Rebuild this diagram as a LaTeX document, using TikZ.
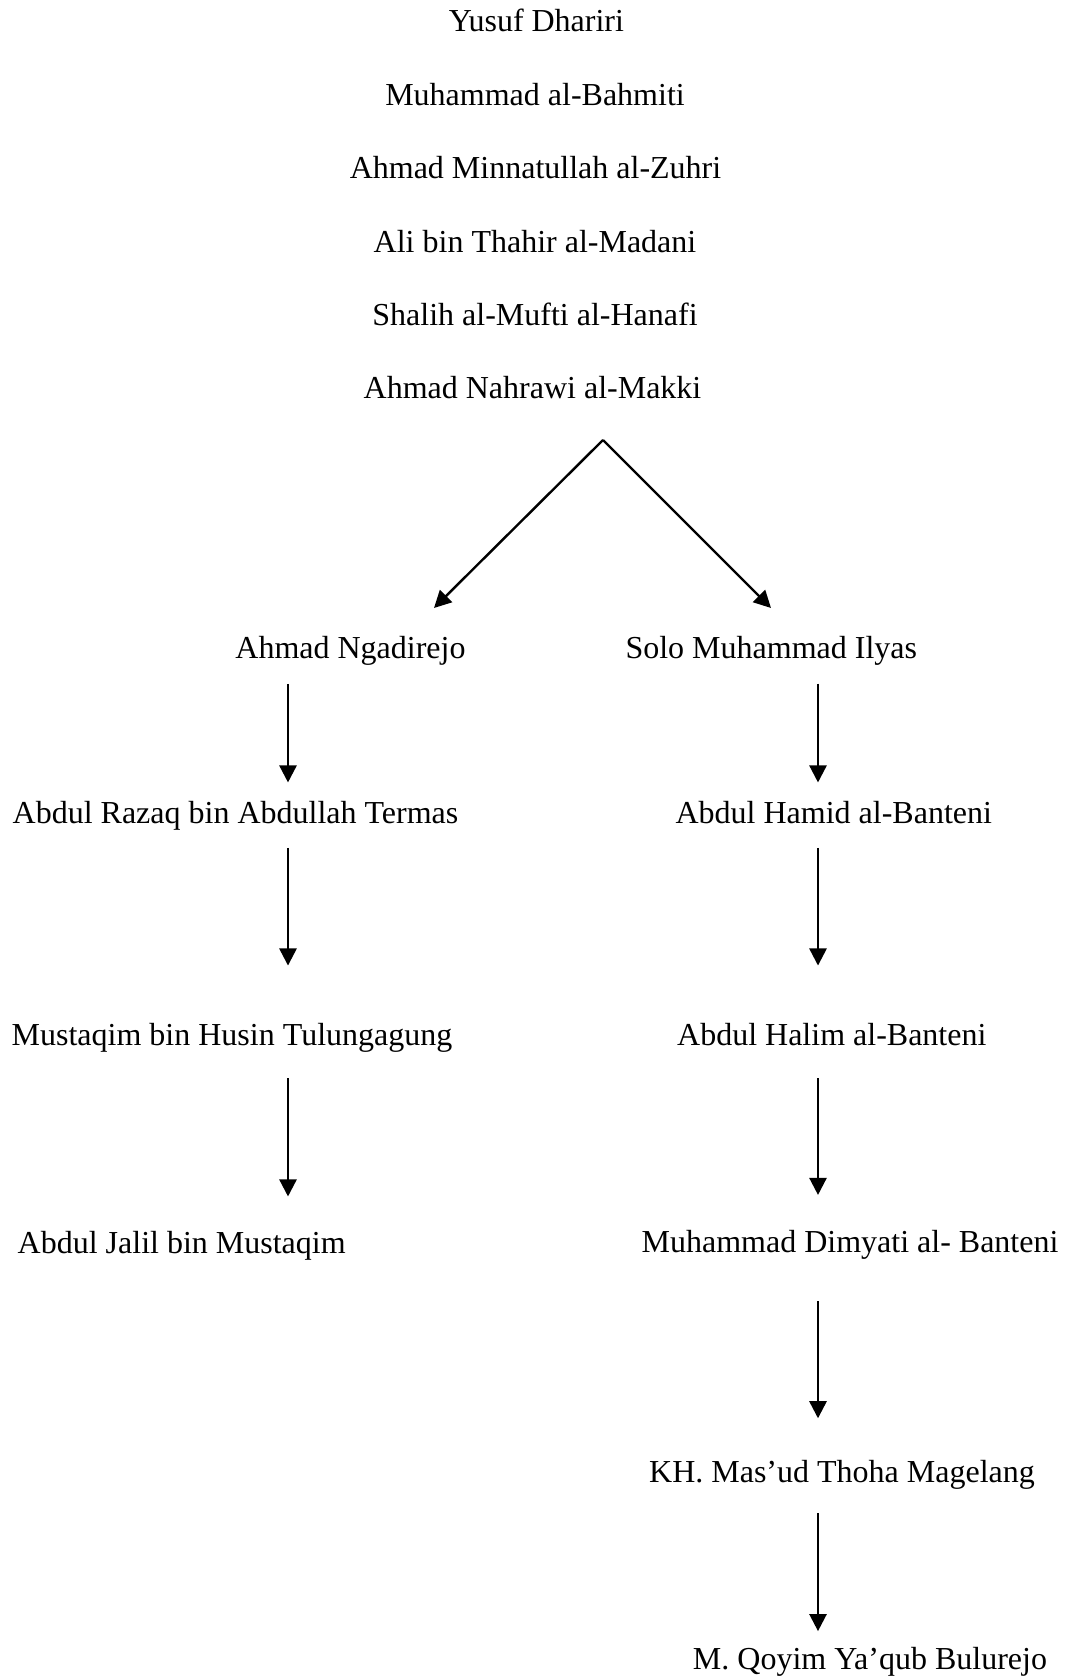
\documentclass[tikz,border=0pt]{standalone}
\usepackage{fontspec}
\setmainfont{Liberation Serif}
\usetikzlibrary{arrows.meta, calc, positioning}

\begin{document}
\begin{tikzpicture}[x=0.375pt, y=-0.375pt,
    person/.style={font=\fontsize{12pt}{14pt}\selectfont, anchor=base,
                   inner sep=0pt, text height=9pt, text depth=3pt},
    link/.style={black, line width=0.9pt, -{Triangle[length=6.4pt, width=6.4pt]}}]
      % Page, measured in pixels from the top left
      \useasboundingbox (0,0) rectangle (1068,1679);

      % The chain at the top
      \node[person] (yusuf)    at (536.5,  32) {Yusuf Dhariri};
      \node[person] (bahmiti)  at (535,   106) {Muhammad al-Bahmiti};
      \node[person] (zuhri)    at (535.5, 179) {Ahmad Minnatullah al-Zuhri};
      \node[person] (madani)   at (535,   253) {Ali bin Thahir al-Madani};
      \node[person] (hanafi)   at (535,   326) {Shalih al-Mufti al-Hanafi};
      \node[person] (nahrawi)  at (532.5, 399) {Ahmad Nahrawi al-Makki};

      % Left branch
      \node[person] (ngadi)    at (350.5, 658)  {Ahmad Ngadirejo};
      \node[person] (razaq)    at (235.5, 823)  {Abdul Razaq bin Abdullah Termas};
      \node[person] (mustaqim) at (232,  1045)  {Mustaqim bin Husin Tulungagung};
      \node[person] (jalil)    at (181.7,1253)  {Abdul Jalil bin Mustaqim};

      % Right branch
      \node[person] (solo)     at (771.3, 658)  {Solo Muhammad Ilyas};
      \node[person] (hamid)    at (833.8, 823)  {Abdul Hamid al-Banteni};
      \node[person] (halim)    at (831.8,1045)  {Abdul Halim al-Banteni};
      \node[person] (dimyati)  at (850,  1252)  {Muhammad Dimyati al- Banteni};
      \node[person] (masud)    at (842,  1482)  {KH. Mas’ud Thoha Magelang};
      \node[person] (qoyim)    at (870,  1669)  {M. Qoyim Ya’qub Bulurejo};

      % Fork under the chain
      \coordinate (fork)    at (603, 440);
      \coordinate (ngadiin) at (434, 608);
      \coordinate (soloin)  at (771, 608);
      \draw[link] (fork) -- (ngadiin);
      \draw[link] (fork) -- (soloin);

      % Columns of the vertical arrows
      \coordinate (lx) at (288, 0);
      \coordinate (rx) at (818, 0);

      \draw[link, shorten <=6.5pt, shorten >=6pt]  (ngadi.south -| lx)    -- (razaq.north -| lx);
      \draw[link, shorten <=6.1pt, shorten >=20.6pt] (razaq.south -| lx)  -- (mustaqim.north -| lx);
      \draw[link, shorten <=9.3pt, shorten >=12pt] (mustaqim.south -| lx) -- (jalil.north -| lx);

      \draw[link, shorten <=6.4pt, shorten >=6pt]  (solo.south -| rx)     -- (hamid.north -| rx);
      \draw[link, shorten <=6.1pt, shorten >=20.6pt] (hamid.south -| rx)  -- (halim.north -| rx);
      \draw[link, shorten <=9.3pt, shorten >=12.2pt] (halim.south -| rx)  -- (dimyati.north -| rx);
      \draw[link, shorten <=15.2pt, shorten >=14.7pt] (dimyati.south -| rx) -- (masud.north -| rx);
      \draw[link, shorten <=8.5pt, shorten >=5pt]  (masud.south -| rx)    -- (qoyim.north -| rx);
\end{tikzpicture}
\end{document}
